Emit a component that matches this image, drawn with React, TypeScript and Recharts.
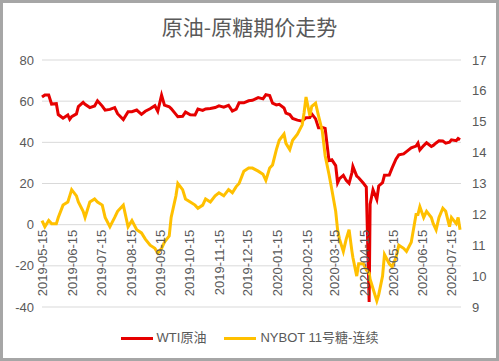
import React from 'react';
import { LineChart, Line, XAxis, YAxis, CartesianGrid } from 'recharts';

const W = 499;
const H = 361;
const PLOT_TOP = 60;
const PLOT_BOTTOM = 307;
const FONT = '"Liberation Sans", "Noto Sans CJK SC", sans-serif';
const GREY = '#595959';
const RED = '#E60000';
const GOLD = '#FFC000';

const dates = [
    '2019-05-14', '2019-05-17', '2019-05-21', '2019-05-24', '2019-05-29', '2019-05-31',
    '2019-06-05', '2019-06-10', '2019-06-12', '2019-06-14', '2019-06-19', '2019-06-21',
    '2019-06-26', '2019-06-28', '2019-07-03', '2019-07-08', '2019-07-11', '2019-07-16',
    '2019-07-19', '2019-07-24', '2019-07-29', '2019-08-01', '2019-08-07', '2019-08-12',
    '2019-08-16', '2019-08-21', '2019-08-26', '2019-08-30', '2019-09-04', '2019-09-09',
    '2019-09-12', '2019-09-16', '2019-09-19', '2019-09-24', '2019-09-26', '2019-10-01',
    '2019-10-03', '2019-10-08', '2019-10-11', '2019-10-16', '2019-10-21', '2019-10-24',
    '2019-10-29', '2019-11-01', '2019-11-06', '2019-11-11', '2019-11-15', '2019-11-20',
    '2019-11-25', '2019-11-29', '2019-12-03', '2019-12-06', '2019-12-11', '2019-12-16',
    '2019-12-20', '2019-12-26', '2019-12-31', '2020-01-03', '2020-01-07', '2020-01-10',
    '2020-01-14', '2020-01-17', '2020-01-22', '2020-01-24', '2020-01-28', '2020-01-31',
    '2020-02-05', '2020-02-10', '2020-02-12', '2020-02-14', '2020-02-18', '2020-02-20',
    '2020-02-24', '2020-02-27', '2020-03-02', '2020-03-05', '2020-03-09', '2020-03-12',
    '2020-03-16', '2020-03-18', '2020-03-20', '2020-03-24', '2020-03-27', '2020-03-30',
    '2020-04-02', '2020-04-03', '2020-04-07', '2020-04-09', '2020-04-14', '2020-04-17',
    '2020-04-20', '2020-04-21', '2020-04-24', '2020-04-28', '2020-04-30', '2020-05-04',
    '2020-05-06', '2020-05-11', '2020-05-14', '2020-05-18', '2020-05-21', '2020-05-26',
    '2020-05-29', '2020-06-03', '2020-06-08', '2020-06-10', '2020-06-12', '2020-06-16',
    '2020-06-19', '2020-06-24', '2020-06-26', '2020-06-29', '2020-07-02', '2020-07-06',
    '2020-07-09', '2020-07-13', '2020-07-15', '2020-07-20', '2020-07-22', '2020-07-24',
];

// WTI crude, USD/bbl (left axis)
const wti = [
    62.0, 63.0, 63.0, 58.6, 58.8, 53.5,
    51.7, 53.3, 51.2, 52.5, 53.8, 57.4,
    59.4, 58.5, 56.9, 57.7, 60.2, 57.6,
    55.6, 56.0, 56.9, 53.9, 51.1, 54.9,
    54.9, 55.7, 53.6, 55.1, 56.3, 57.8,
    55.1, 62.9, 58.1, 57.3, 56.4, 53.6,
    52.5, 52.6, 54.7, 53.4, 53.3, 56.2,
    55.5, 56.2, 56.4, 56.9, 57.7, 57.1,
    58.0, 55.2, 56.1, 59.2, 59.2, 60.2,
    60.4, 61.7, 61.1, 63.1, 62.7, 59.0,
    58.2, 58.5, 56.7, 54.2, 53.5, 51.6,
    50.8, 50.3, 51.2, 52.0, 52.1, 53.8,
    51.4, 47.1, 47.2, 46.8, 31.1, 31.5,
    28.7, 20.4, 22.4, 24.0, 21.5, 20.1,
    25.3, 28.3, 23.6, 22.8, 20.1, 18.3,
    -37.6, 10.0, 17.0, 12.3, 18.8, 20.4,
    24.0, 24.1, 27.6, 31.8, 33.9, 34.4,
    35.5, 37.3, 38.2, 39.6, 36.3, 38.4,
    39.8, 38.0, 38.5, 39.7, 40.7, 40.6,
    39.6, 40.1, 41.2, 40.8, 41.9, 41.3,
];

// NYBOT No.11 sugar, continuous, US cents/lb (right axis)
const sugar = [
    11.8, 11.6, 11.8, 11.7, 11.7, 11.9,
    12.3, 12.4, 12.6, 12.8, 12.6, 12.4,
    12.1, 11.9, 12.4, 12.5, 12.4, 12.3,
    11.9, 11.6, 11.9, 12.1, 12.3, 11.6,
    11.8, 11.5, 11.4, 11.2, 11.0, 10.9,
    10.75, 10.9, 11.1, 11.3, 11.9, 12.6,
    13.0, 12.8, 12.5, 12.4, 12.3, 12.2,
    12.3, 12.5, 12.4, 12.6, 12.7, 12.6,
    12.8, 12.7, 12.9, 13.0, 13.4, 13.5,
    13.5, 13.4, 13.3, 13.1, 13.5, 13.6,
    14.1, 14.4, 14.6, 14.3, 14.1, 14.4,
    14.6, 14.9, 15.3, 15.8, 15.2, 15.5,
    15.6, 15.2, 14.7, 13.9, 13.3, 12.8,
    12.1, 11.5, 11.2, 10.8, 11.2, 11.5,
    10.8, 10.6, 10.0, 10.4, 10.4, 10.2,
    10.1, 9.9, 9.6, 9.2, 9.4, 10.0,
    10.7, 10.4, 10.3, 10.6, 11.0, 10.9,
    10.8, 11.1, 12.0, 12.0, 12.25, 11.9,
    12.1, 11.9, 11.7, 11.5, 11.9, 12.2,
    12.1, 11.6, 11.9, 11.7, 11.9, 11.5,
];

const tickDates = [
    '2019-05-15', '2019-06-15', '2019-07-15', '2019-08-15', '2019-09-15',
    '2019-10-15', '2019-11-15', '2019-12-15', '2020-01-15', '2020-02-15',
    '2020-03-15', '2020-04-15', '2020-05-15', '2020-06-15', '2020-07-15',
];
const leftTicks = [-40, -20, 0, 20, 40, 60, 80];
const rightTicks = [9, 10, 11, 12, 13, 14, 15, 16, 17];

const toTime = (s: string) => new Date(s + 'T00:00:00Z').getTime();
const pad = (n: number) => String(n).padStart(2, '0');
const fmtDate = (t: number) => {
    const d = new Date(t);
    return `${d.getUTCFullYear()}-${pad(d.getUTCMonth() + 1)}-${pad(d.getUTCDate())}`;
};

const data = dates.map((d, i) => ({ t: toTime(d), wti: wti[i], sugar: sugar[i] }));

// horizontal axis crosses the left axis at 0, so the labels hang from there
const zeroY =
    PLOT_TOP +
    ((PLOT_BOTTOM - PLOT_TOP) * leftTicks[leftTicks.length - 1]) /
        (leftTicks[leftTicks.length - 1] - leftTicks[0]);

const DateTick = (props: any) => {
    const { x, payload } = props;
    const y = zeroY + 5;
    return (
        <text
            x={x}
            y={y}
            dy="0.35em"
            textAnchor="end"
            transform={`rotate(-90, ${x}, ${y})`}
            fill={GREY}
            fontSize={13}
            fontFamily={FONT}
        >
            {fmtDate(payload.value)}
        </text>
    );
};

const legendItems = [
    { name: 'WTI原油', color: RED },
    { name: 'NYBOT 11号糖-连续', color: GOLD },
];

const App: React.FC = () => {
    return (
        <div style={{ position: 'fixed', left: 0, top: 0, width: W, height: H, background: '#fff', fontFamily: FONT }}>
            <div
                style={{
                    position: 'absolute',
                    top: 10,
                    width: W,
                    textAlign: 'center',
                    fontSize: 21,
                    color: GREY,
                    fontFamily: '"Noto Sans CJK SC", sans-serif',
                    lineHeight: '32px',
                }}
            >
                原油-原糖期价走势
            </div>
            <LineChart width={W} height={H} data={data} margin={{ top: PLOT_TOP, right: 0, left: 0, bottom: H - PLOT_BOTTOM - 1 }}>
                <CartesianGrid horizontal vertical={false} stroke="#d9d9d9" yAxisId="left" />
                <XAxis
                    dataKey="t"
                    type="number"
                    scale="time"
                    domain={[toTime('2019-05-14'), toTime('2020-07-25')]}
                    ticks={tickDates.map(toTime)}
                    tick={<DateTick />}
                    axisLine={false}
                    tickLine={false}
                    height={1}
                    interval={0}
                />
                <YAxis
                    yAxisId="left"
                    domain={[-40, 80]}
                    ticks={leftTicks}
                    width={42}
                    axisLine={false}
                    tickLine={false}
                    tick={{ fill: GREY, fontSize: 13, fontFamily: FONT }}
                />
                <YAxis
                    yAxisId="right"
                    orientation="right"
                    domain={[9, 17]}
                    ticks={rightTicks}
                    width={38}
                    axisLine={false}
                    tickLine={false}
                    tickMargin={5}
                    tick={{ fill: GREY, fontSize: 13, fontFamily: FONT, textAnchor: 'start' }}
                />
                <Line yAxisId="left" type="linear" dataKey="wti" stroke={RED} strokeWidth={3} dot={false} isAnimationActive={false} />
                <Line yAxisId="right" type="linear" dataKey="sugar" stroke={GOLD} strokeWidth={3} dot={false} isAnimationActive={false} />
            </LineChart>
            <div
                style={{
                    position: 'absolute',
                    top: 330,
                    width: W,
                    display: 'flex',
                    justifyContent: 'center',
                    alignItems: 'center',
                    gap: 18,
                    fontSize: 13,
                    color: GREY,
                    lineHeight: '16px',
                }}
            >
                {legendItems.map((item) => (
                    <div key={item.name} style={{ display: 'flex', alignItems: 'center' }}>
                        <span style={{ display: 'inline-block', width: 32, height: 3, background: item.color, marginRight: 4 }} />
                        <span>{item.name}</span>
                    </div>
                ))}
            </div>
            <div style={{ position: 'absolute', inset: 0, border: '3px solid #a6a6a6', pointerEvents: 'none' }} />
        </div>
    );
};

export default App;
